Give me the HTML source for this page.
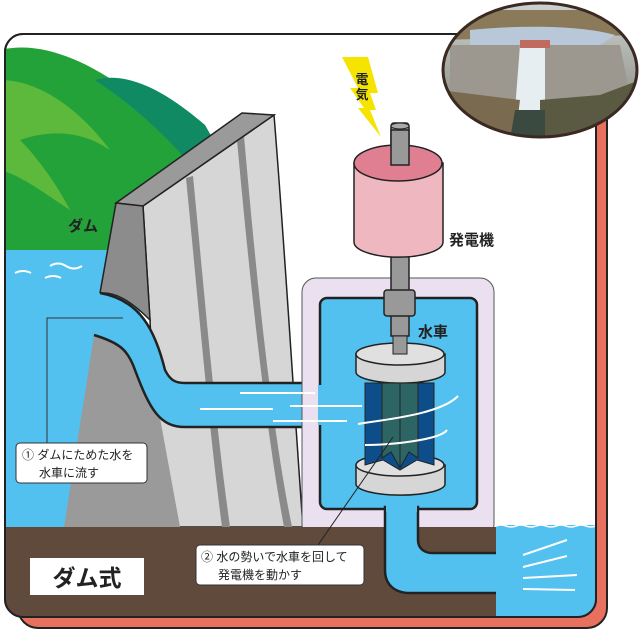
<!DOCTYPE html>
<html><head><meta charset="utf-8"><style>
html,body{margin:0;padding:0;background:#fff;}
svg{display:block;}
text{font-family:"Liberation Sans","Noto Sans CJK JP",sans-serif;}
</style></head><body>
<svg width="640" height="632" viewBox="0 0 640 632" xmlns="http://www.w3.org/2000/svg">
<defs>
<clipPath id="fr"><rect x="5" y="34" width="591" height="583" rx="18"/></clipPath>
<clipPath id="ph"><ellipse cx="540" cy="70" rx="97" ry="67"/></clipPath>
<linearGradient id="sky" x1="0" y1="0" x2="0" y2="1"><stop offset="0" stop-color="#cfd3d4"/><stop offset="1" stop-color="#7d8070"/></linearGradient>
</defs>
<rect x="18" y="44" width="589" height="584" rx="20" fill="#e8705f" stroke="#222" stroke-width="2"/>
<rect x="5" y="34" width="591" height="583" rx="18" fill="#fff" stroke="#222" stroke-width="2"/>
<g clip-path="url(#fr)">
<path d="M0 50 C40 40 90 60 140 100 C190 140 220 170 240 200 L240 300 L0 300Z" fill="#23a23a"/>
<path d="M95 80 C130 70 170 95 205 125 L225 160 L200 175 C170 140 140 110 95 80Z" fill="#0f8a62"/>
<path d="M0 80 C40 80 80 110 110 150 C80 130 50 130 20 140 C40 160 60 190 70 210 C40 190 20 175 0 170Z" fill="#6bbf3c" opacity="0.8"/>
<rect x="0" y="250" width="140" height="290" fill="#52c1ef"/>
<path d="M50 266 q8-5 16 0 q8 5 16 0 M15 273 q8-4 16 0 M45 278 q8-4 16 0" stroke="#fff" stroke-width="2" fill="none"/>
<!-- dam face -->
<path d="M143 206 L274 115 C285 250 295 420 303 527 L160 527 L150 320Z" fill="#d6d6d6" stroke="#222" stroke-width="1.5"/>
<path d="M186 178 L193 176 C205 300 215 420 230 527 L222 527 C208 420 198 300 186 178Z" fill="#8a8a8a"/>
<path d="M237 140 L244 136 C255 260 270 420 292 527 L284 527 C264 420 248 260 237 140Z" fill="#8a8a8a"/>
<path d="M116 203 L242 113 L274 115 L143 206Z" fill="#9a9a9a" stroke="#222" stroke-width="1.5"/>
<path d="M116 203 L143 206 L150 320 C130 300 115 292 100 293Z" fill="#8c8c8c" stroke="#222" stroke-width="1.5"/>
<!-- penstock water -->
<path d="M100 293 C140 300 155 330 165 370 C170 380 175 383 185 383 L322 383 L322 427 L185 427 C160 427 150 410 135 370 C128 350 120 343 94 335 L0 335 L0 293Z" fill="#52c1ef"/>
<path d="M100 293 C140 300 155 330 165 370 C170 380 175 383 185 383 L322 383" fill="none" stroke="#222" stroke-width="2.5"/>
<!-- lower dark dam -->
<path d="M94 335 C120 343 128 350 135 370 C145 395 150 408 160 418 L180 527 L64 527 Z" fill="#9a9a9a"/>
<path d="M185 427 L322 427" stroke="#222" stroke-width="2.5"/>
<path d="M94 335 C120 343 128 350 135 370 C150 410 160 427 185 427" fill="none" stroke="#222" stroke-width="2.5"/>
<!-- chamber -->
<rect x="302" y="278" width="192" height="260" rx="14" fill="#ebe0ef" stroke="#555" stroke-width="1"/>
<rect x="320" y="298" width="157" height="211" rx="7" fill="#52c1ef" stroke="#222" stroke-width="2.5"/>
<rect x="318" y="385" width="6" height="40" fill="#52c1ef"/>
<rect x="0" y="527" width="500" height="95" fill="#604a3c"/>
<path d="M385 507 L385 570 C385 585 395 593 410 593 L500 593 L500 553 L432 553 C424 553 418 548 418 540 L418 507Z" fill="#52c1ef" stroke="#222" stroke-width="2.5"/>
<rect x="386" y="504" width="31" height="8" fill="#52c1ef"/>
<rect x="496" y="525" width="105" height="100" fill="#52c1ef"/>
<path d="M496 526 q5 -2 10 0 q5 2 10 0 q5 -2 10 0 q5 2 10 0 q5 -2 10 0 q5 2 10 0 q5 -2 10 0 q5 2 10 0 q5 -2 10 0 q5 2 10 0" stroke="#fff" stroke-width="1.5" fill="none"/>
<path d="M523 555 L567 540 M523 567 L567 556 M523 578 L577 575 M523 589 L575 590" stroke="#fff" stroke-width="2"/>
<rect x="391" y="256" width="18" height="80" fill="#999" stroke="#222" stroke-width="1.5"/>
<rect x="384" y="290" width="31" height="26" rx="3" fill="#999" stroke="#222" stroke-width="1.5"/>
<path d="M356 354 L356 372 A44 11 0 0 0 445 372 L445 354Z" fill="#d6d6d6" stroke="#222" stroke-width="1.5"/>
<ellipse cx="400" cy="354" rx="44" ry="11" fill="#e0e0e0" stroke="#222" stroke-width="1.5"/>
<rect x="393" y="336" width="14" height="18" fill="#999" stroke="#222" stroke-width="1"/>
<path d="M356 465 L356 484 A44 11 0 0 0 445 484 L445 465Z" fill="#d6d6d6" stroke="#222" stroke-width="1.5"/>
<ellipse cx="400" cy="465" rx="44" ry="11" fill="#e0e0e0" stroke="#222" stroke-width="1.5"/>
<path d="M365 383 L434 383 L434 465 L417 460 L400 470 L383 460 L365 465Z" fill="#0d4e8a" stroke="#222" stroke-width="1"/>
<path d="M382 383 L418 383 L418 458 L409 452 L400 468 L391 452 L382 458Z" fill="#2d6464" stroke="#222" stroke-width="1"/>
<path d="M400 383 L400 468" stroke="#222" stroke-width="1"/>
<path d="M358 424 C380 420 440 415 458 396 M365 445 C390 445 440 440 447 430" stroke="#fff" stroke-width="2" fill="none"/>
<path d="M240 393 L315 393 M200 409 L273 409 M290 406 L362 406 M273 421 L347 421" stroke="#fff" stroke-width="2"/>
<rect x="391" y="123" width="18" height="40" rx="3" fill="#999" stroke="#222" stroke-width="1.5"/>
<path d="M354 163 L354 242 A44 15 0 0 0 443 242 L443 163Z" fill="#efb8c0" stroke="#222" stroke-width="1.5"/>
<ellipse cx="398" cy="163" rx="44" ry="18" fill="#e07f92" stroke="#222" stroke-width="1.5"/>
<rect x="391" y="130" width="18" height="35" fill="#999" stroke="#222" stroke-width="1.5"/>
<ellipse cx="400" cy="126" rx="9" ry="3" fill="#aaa" stroke="#222" stroke-width="1"/>
<path d="M342 57 L368 57 L378 93 L370 93 L376 110 L370 110 L381 137 L358 108 L364 108 L350 88 L358 88Z" fill="#f5e400"/>
<text x="362" y="84" font-size="13" font-weight="bold" text-anchor="middle" fill="#222">電</text>
<text x="362" y="99" font-size="13" font-weight="bold" text-anchor="middle" fill="#222">気</text>
<text x="68" y="231" font-size="15" font-weight="bold" fill="#222">ダム</text>
<text x="449" y="245" font-size="15" font-weight="bold" fill="#222">発電機</text>
<text x="418" y="337" font-size="15" font-weight="bold" fill="#222">水車</text>
<path d="M123 318 L47 318 L47 443" stroke="#333" stroke-width="1" fill="none"/>
<rect x="16" y="443" width="131" height="40" rx="4" fill="#fff" stroke="#333" stroke-width="1"/>
<text x="22" y="459" font-size="12" fill="#222">① ダムにためた水を</text>
<text x="39" y="477" font-size="12" fill="#222">水車に流す</text>
<path d="M318 545 L393 437" stroke="#222" stroke-width="1"/>
<rect x="196" y="545" width="168" height="40" rx="4" fill="#fff" stroke="#333" stroke-width="1"/>
<text x="201" y="561" font-size="12" fill="#222">② 水の勢いで水車を回して</text>
<text x="218" y="579" font-size="12" fill="#222">発電機を動かす</text>
<rect x="30" y="558" width="114" height="37" fill="#fff"/>
<text x="87" y="586" font-size="23" font-weight="bold" text-anchor="middle" fill="#222">ダム式</text>
</g>
<rect x="5" y="34" width="591" height="583" rx="18" fill="none" stroke="#222" stroke-width="2"/>
<g clip-path="url(#ph)">
<rect x="440" y="0" width="200" height="140" fill="url(#sky)"/>
<path d="M440 10 L640 10 L640 35 L440 40Z" fill="#8a7a5a"/>
<path d="M470 30 C520 25 580 25 615 35 L600 45 L470 45Z" fill="#b8c8d8"/>
<path d="M450 45 L620 45 L630 95 L540 100 L450 95Z" fill="#9c9890"/>
<path d="M520 45 L545 45 L545 110 L515 110Z" fill="#e6eef2"/>
<path d="M540 100 L600 95 L640 80 L640 140 L540 140Z" fill="#5a5a42"/>
<path d="M440 90 L520 100 L515 140 L440 140Z" fill="#7a6a50"/>
<path d="M515 110 L545 110 L545 140 L510 140Z" fill="#3a4a40"/>
<rect x="520" y="40" width="30" height="8" fill="#c06a60"/>
</g>
<ellipse cx="540" cy="70" rx="97" ry="67" fill="none" stroke="#3a2a22" stroke-width="3"/>
</svg>
</body></html>
